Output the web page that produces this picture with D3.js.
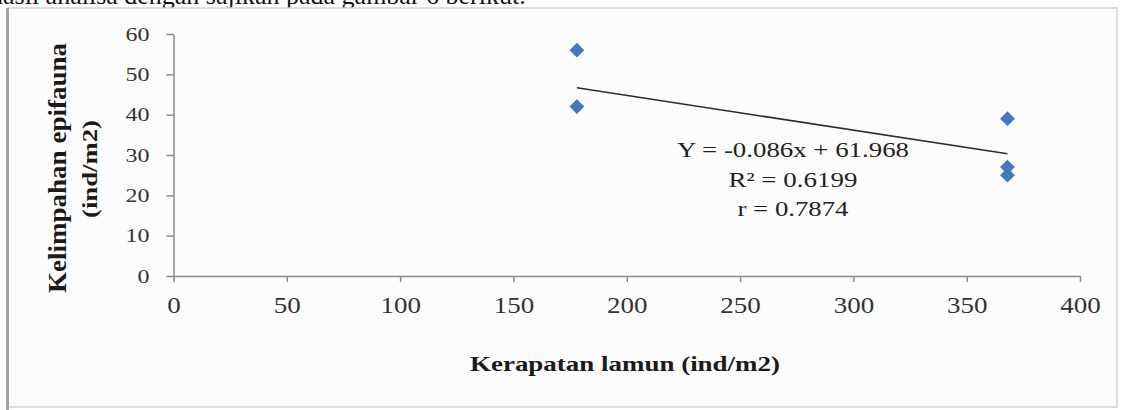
<!DOCTYPE html>
<html>
<head>
<meta charset="utf-8">
<script src="https://cdn.jsdelivr.net/npm/d3@7"></script>
<style>
  body { margin: 0; background: #fff; }
  svg { display: block; }
  .tick line, .domain { stroke: #8a8a8a; stroke-width: 1.5; }
</style>
</head>
<body>
<div class="chart"></div>
<script>
// values
var kerapatan = [178, 178, 368, 368, 368];
var kelimpahan = [56, 42, 39, 27, 25];
var xTicks = [0, 50, 100, 150, 200, 250, 300, 350, 400];
var yTicks = [0, 10, 20, 30, 40, 50, 60];
var trendSlope = -0.086;
var trendIntercept = 61.968;
var statLines = ["Y = -0.086x + 61.968", "R\u00B2 = 0.6199", "r = 0.7874"];

var width = 1124, height = 410;

var svg = d3.select(".chart").append("svg")
    .attr("width", width)
    .attr("height", height);

// cut-off line of text above the figure
svg.append("text")
    .attr("x", -10)
    .attr("y", 4)
    .style("font-family", "Liberation Serif, serif")
    .style("font-size", "26px")
    .style("fill", "#111")
    .text("hasil analisa dengan sajikan pada gambar 6 berikut.");

// chart frame
svg.append("rect")
    .attr("x", 8).attr("y", 8)
    .attr("width", 1109).attr("height", 399)
    .attr("fill", "#fcfcfc")
    .attr("stroke", "#d4d4d4")
    .attr("stroke-width", 1.5);

svg.append("rect")
    .attr("x", 6).attr("y", 8)
    .attr("width", 3).attr("height", 402)
    .attr("fill", "#a3a3a3");

var x = d3.scaleLinear().domain([0, 400]).range([173.5, 1080]);
var y = d3.scaleLinear().domain([0, 60]).range([276, 34]);

var xAxis = svg.append("g")
    .attr("transform", "translate(0," + y(0) + ")")
    .call(d3.axisBottom(x).tickValues(xTicks).tickSize(6).tickSizeOuter(0).tickPadding(14));

xAxis.selectAll("text")
    .style("font-family", "Liberation Serif, serif")
    .style("font-size", "24px")
    .style("fill", "#333")
    .attr("dy", "0.71em")
    .attr("textLength", function(d) { return String(d).length * 13.5; })
    .attr("lengthAdjust", "spacingAndGlyphs");

var yAxis = svg.append("g")
    .attr("transform", "translate(" + x(0) + ",0)")
    .call(d3.axisLeft(y).tickValues(yTicks).tickSize(7).tickSizeOuter(0).tickPadding(17));

yAxis.selectAll("text")
    .style("font-family", "Liberation Serif, serif")
    .style("font-size", "19px")
    .style("fill", "#333")
    .attr("textLength", function(d) { return String(d).length * 12; })
    .attr("lengthAdjust", "spacingAndGlyphs");

// trend line from the fitted equation over the range of the data
var xMin = d3.min(kerapatan), xMax = d3.max(kerapatan);
svg.append("line")
    .attr("x1", x(xMin))
    .attr("y1", y(trendIntercept + trendSlope * xMin))
    .attr("x2", x(xMax))
    .attr("y2", y(trendIntercept + trendSlope * xMax))
    .attr("stroke", "#2b2b2b")
    .attr("stroke-width", 1.6);

// points
svg.selectAll(".pt")
    .data(kerapatan)
    .enter().append("path")
    .attr("class", "pt")
    .attr("d", d3.symbol(d3.symbolDiamond2, 140))
    .attr("transform", function(d, i) { return "translate(" + x(d) + "," + y(kelimpahan[i]) + ")"; })
    .attr("fill", "#4477bb");

// regression text
var statLens = [232, 129, 111];
svg.selectAll(".stat")
    .data(statLines)
    .enter().append("text")
    .attr("class", "stat")
    .attr("x", 793)
    .attr("y", function(d, i) { return 157 + i * 29.5; })
    .attr("text-anchor", "middle")
    .style("font-family", "Liberation Serif, serif")
    .style("font-size", "22px")
    .style("fill", "#222")
    .attr("textLength", function(d, i) { return statLens[i]; })
    .attr("lengthAdjust", "spacingAndGlyphs")
    .text(function(d) { return d; });

// axis titles
svg.append("text")
    .attr("x", 625)
    .attr("y", 371)
    .attr("text-anchor", "middle")
    .style("font-family", "Liberation Serif, serif")
    .style("font-weight", "bold")
    .style("font-size", "22px")
    .style("fill", "#1a1a1a")
    .attr("textLength", 310)
    .attr("lengthAdjust", "spacingAndGlyphs")
    .text("Kerapatan lamun (ind/m2)");

svg.append("text")
    .attr("transform", "translate(66,168) rotate(-90)")
    .attr("text-anchor", "middle")
    .style("font-family", "Liberation Serif, serif")
    .style("font-weight", "bold")
    .style("font-size", "25px")
    .style("fill", "#1a1a1a")
    .attr("textLength", 250)
    .attr("lengthAdjust", "spacingAndGlyphs")
    .text("Kelimpahan epifauna");

svg.append("text")
    .attr("transform", "translate(97,169) rotate(-90)")
    .attr("text-anchor", "middle")
    .style("font-family", "Liberation Serif, serif")
    .style("font-weight", "bold")
    .style("font-size", "20px")
    .style("fill", "#1a1a1a")
    .attr("textLength", 98)
    .attr("lengthAdjust", "spacingAndGlyphs")
    .text("(ind/m2)");
</script>
</body>
</html>
